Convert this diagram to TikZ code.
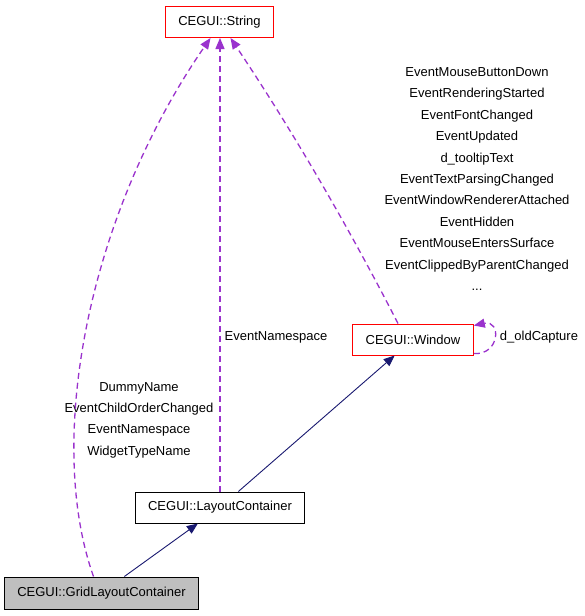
\documentclass[tikz,border=0pt]{standalone}
\usepackage{fontspec}
\setmainfont{Liberation Sans}
\usepackage{tikz}
\usetikzlibrary{arrows.meta,positioning}

\definecolor{dgnavy}{HTML}{191970}
\definecolor{dgpurple}{HTML}{9A32CD}
\definecolor{dggrey}{HTML}{BFBFBF}

\begin{document}
\begin{tikzpicture}
  [
   x=1pt,y=-1pt,
   font=\fontsize{13}{15.6}\selectfont,
   cls/.style={rectangle,draw=red,line width=1pt,inner xsep=13pt,inner ysep=0pt,minimum height=31pt},
   bcls/.style={rectangle,draw=black,line width=1pt,inner xsep=13pt,inner ysep=0pt,minimum height=31pt},
   gcls/.style={rectangle,draw=black,fill=dggrey,line width=1pt,inner xsep=13pt,inner ysep=0pt,minimum height=32pt},
   inh/.style={-{Triangle[length=11pt,width=9pt]},color=dgnavy,line width=0.9pt},
   use/.style={-{Triangle[length=11pt,width=9pt]},color=dgpurple,line width=1.3pt,dash pattern=on 6pt off 4pt},
   lbl/.style={align=center,inner sep=0pt,font=\fontsize{13}{21.4}\selectfont}
  ]
   \useasboundingbox[fill=white] (0,0) rectangle (584,616);

   \node[cls]  (str)  at (219.5,22)  {CEGUI::String};
   \node[cls]  (win)  at (413,339.5) {CEGUI::Window};
   \node[bcls] (lay)  at (220,507.5) {CEGUI::LayoutContainer};
   \node[gcls] (grid) at (101.5,593) {CEGUI::GridLayoutContainer};

   \node[lbl] (lwin)  at (477,179)  {EventMouseButtonDown\\EventRenderingStarted\\EventFontChanged\\EventUpdated\\d\_tooltipText\\EventTextParsingChanged\\EventWindowRendererAttached\\EventHidden\\EventMouseEntersSurface\\EventClippedByParentChanged\\...};
   \node[lbl] (lgrid) at (139,420)  {DummyName\\EventChildOrderChanged\\EventNamespace\\WidgetTypeName};
   \node[lbl] (llay)  at (276,337)  {EventNamespace};
   \node[lbl] (lself) at (539,337)  {d\_oldCapture};

   \draw[inh] (grid) -- (lay);
   \draw[inh] (lay) -- (win);
   \draw[use] (lay) -- (lay |- str.south);
   \draw[use] ([xshift=-15pt]win.north) .. controls (348,226) and (292,130) .. ([xshift=11pt]str.south);
   \draw[use] ([xshift=-8pt]grid.north) .. controls (45,440) and (88,215) .. ([xshift=-9pt]str.south);
   \draw[use] ([yshift=2pt]win.south east) .. controls +(26,2) and +(28,-6) .. ([yshift=-2pt]win.north east);

\end{tikzpicture}
\end{document}
